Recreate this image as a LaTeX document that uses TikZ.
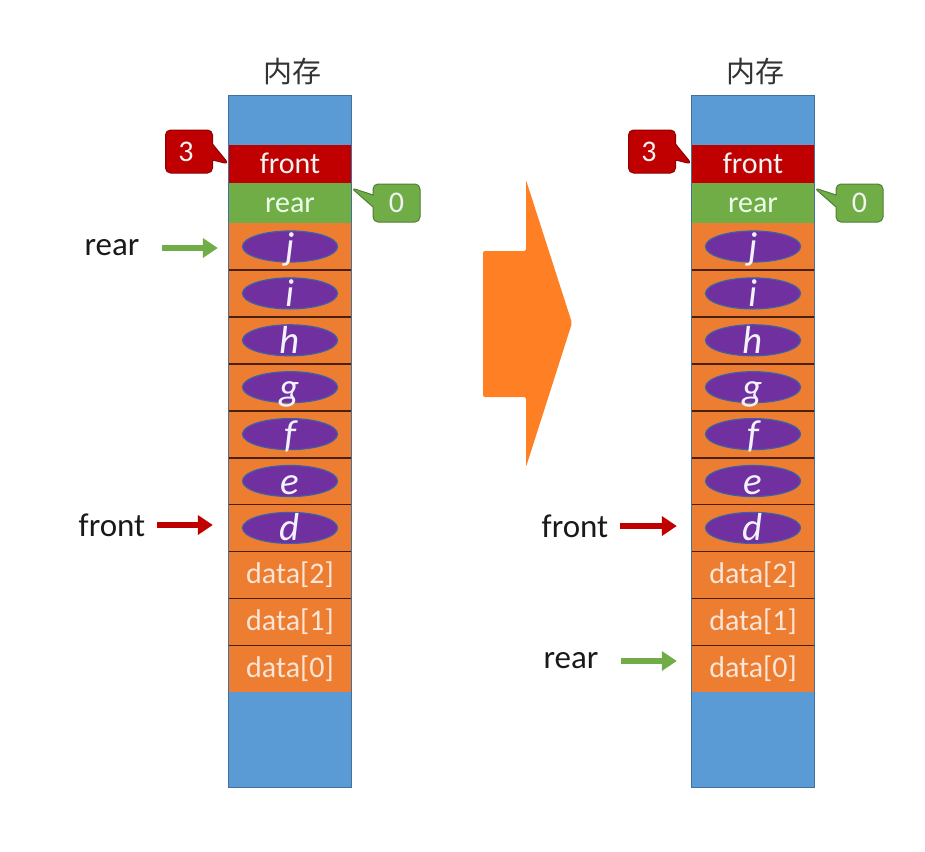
\documentclass[tikz,border=0pt]{standalone}
\usepackage{fontspec}
\setmainfont{Carlito}
\newfontfamily\cjk{Noto Sans CJK SC}
\usetikzlibrary{arrows.meta,shapes.geometric,shapes.callouts}

\definecolor{memblue}{HTML}{5B9BD5}
\definecolor{memline}{HTML}{41719C}
\definecolor{memred}{HTML}{C00000}
\definecolor{memredline}{HTML}{8C0000}
\definecolor{memgreen}{HTML}{70AD47}
\definecolor{memgreenline}{HTML}{507E32}
\definecolor{memorange}{HTML}{ED7D31}
\definecolor{sepbrown}{HTML}{4A2008}
\definecolor{blobpurple}{HTML}{7030A0}
\definecolor{blobline}{HTML}{3F5FA8}
\definecolor{datatext}{HTML}{FBE5D6}
\definecolor{bigorange}{HTML}{FF8024}

\tikzset{
  cell/.style={minimum width=122pt, inner sep=0pt, text height=22pt, text depth=4pt, font=\fontsize{30}{32}\selectfont},
  bluecell/.style={cell, fill=memblue},
  frontcell/.style={cell, fill=memred, minimum height=38pt, text=white!95!black},
  rearcell/.style={cell, fill=memgreen, minimum height=40pt, text=white!92!green},
  datacell/.style={cell, fill=memorange, minimum height=46.9pt, text=datatext},
  sepline/.style={draw=sepbrown, line width=1.6pt},
  blob/.style={ellipse, draw=blobline, line width=1.2pt, fill=blobpurple, minimum width=95pt, minimum height=31pt, inner sep=0pt},
  letter/.style={anchor=base, inner sep=0pt, text=white!95!blue, font=\fontsize{39}{40}\selectfont\itshape},
  note/.style={rectangle callout, rounded corners=5pt, line width=1pt, inner sep=0pt, text=white!95!black, font=\fontsize{30}{32}\selectfont},
  sidelabel/.style={inner sep=0pt, text=black!90, font=\fontsize{33}{35}\selectfont},
  ptr/.style={line width=5.5pt, -{Triangle[length=15pt,width=19pt]}},
}

\begin{document}
\begin{tikzpicture}[x=1pt,y=-1pt]
\useasboundingbox (0,0) rectangle (925,851);

% two memory columns
\foreach \c/\cx in {L/290,R/753}{
  \node[text=black!80, font=\fontsize{29}{31}\selectfont\cjk] (title\c) at (\cx+2,72) {内存};
  \node[bluecell, minimum height=49pt] (top\c) at (\cx,120.5) {};
  \node[frontcell] (front\c) at (\cx,164) {front};
  \node[rearcell] (rear\c) at (\cx,203) {rear};
  \foreach \lt [count=\i from 0] in {j,i,h,g,f,e,d}{
    \node[datacell] (cell\c\i) at (\cx,{246.5+46.9*\i}) {};
    \node[blob] (blob\c\i) at (cell\c\i.center) {};
    \node[letter] (let\c\i) at ([yshift=-13pt]cell\c\i.center) {\lt};
  }
  \foreach \k [count=\i from 7] in {2,1,0}{
    \node[datacell] (cell\c\i) at (\cx,{246.5+46.9*\i}) {data[\k]};
  }
  \node[bluecell, minimum height=95pt] (bot\c) at (\cx,739.5) {};
  \foreach \i in {0,...,8}
    \draw[sepline] (cell\c\i.south west) -- (cell\c\i.south east);
  \draw[memline, line width=0.8pt] (top\c.north west) rectangle (bot\c.south east);
  % value callouts
  \node[note, fill=memred, draw=memredline, minimum width=47pt, minimum height=43pt, callout pointer width=16pt,
        callout absolute pointer={(front\c.west)}] (three\c) at (\cx-101,151.5) {3\hspace*{6pt}};
  \node[note, fill=memgreen, draw=memgreenline, minimum width=47pt, minimum height=38pt, callout pointer width=12pt,
        callout absolute pointer={([yshift=-5pt]rear\c.north east)}] (zero\c) at (\cx+106.5,203) {0};
}

% pointers, before
\node[sidelabel] (rearptrL) at (112,248) {rear};
\draw[ptr, memgreen, shorten <=22pt, shorten >=11pt] (rearptrL.east) -- (rearptrL.east -| cellL0.west);
\node[sidelabel] (frontptrL) at (112,525) {front};
\draw[ptr, memred, shorten <=12pt, shorten >=16pt] (frontptrL.east) -- (frontptrL.east -| cellL6.west);

% pointers, after
\node[sidelabel] (frontptrR) at (575,526) {front};
\draw[ptr, memred, shorten <=12pt, shorten >=15pt] (frontptrR.east) -- (frontptrR.east -| cellR6.west);
\node[sidelabel] (rearptrR) at (571,661) {rear};
\draw[ptr, memgreen, shorten <=22pt, shorten >=15pt] (rearptrR.east) -- (rearptrR.east -| cellR9.west);

% big arrow
\fill[bigorange, rounded corners=2pt] (483,251) -- (526,251) -- (526,180) -- (572,323)
  -- (526,467) -- (526,397) -- (483,397) -- cycle;
\end{tikzpicture}
\end{document}
